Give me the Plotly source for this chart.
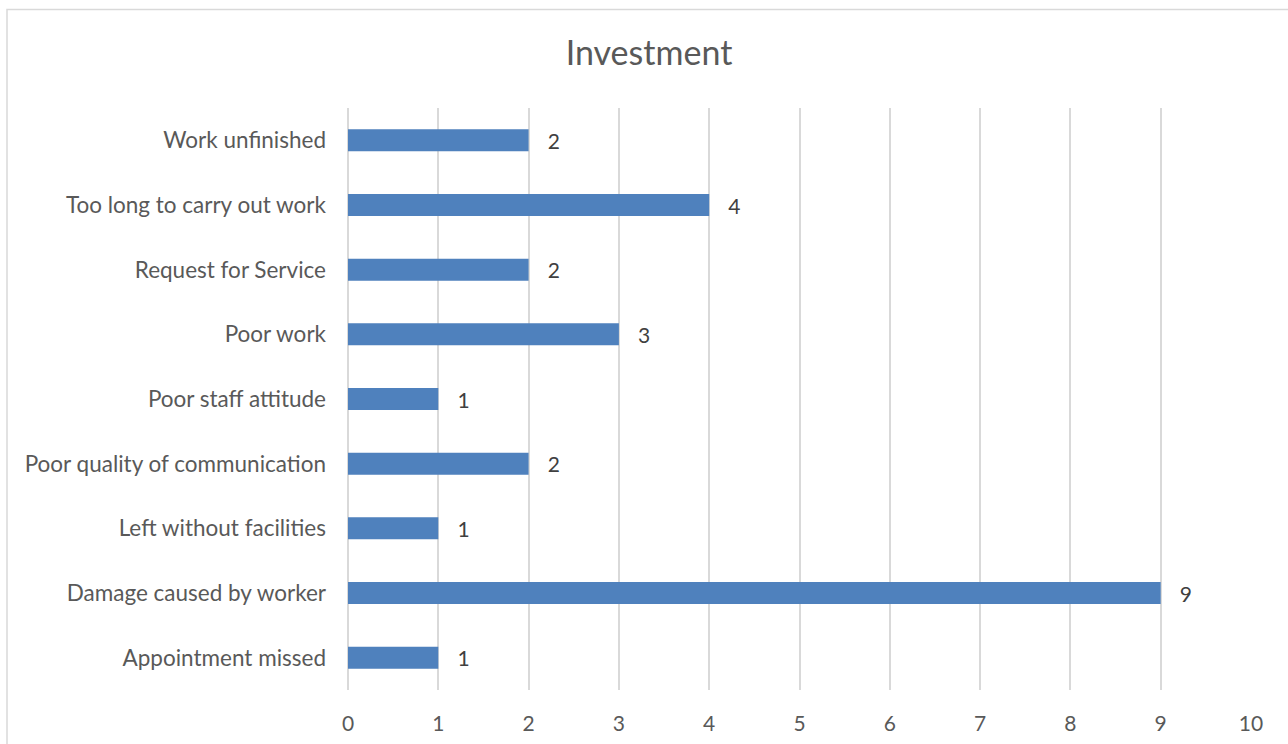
import plotly.graph_objects as go

categories = [
    "Appointment missed",
    "Damage caused by worker",
    "Left without facilities",
    "Poor quality of communication",
    "Poor staff attitude",
    "Poor work",
    "Request for Service",
    "Too long to carry out work",
    "Work unfinished",
]
values = [1, 9, 1, 2, 1, 3, 2, 4, 2]
x_ticks = list(range(0, 11))

W, H = 1288, 744
L, R, T, B = 348, 1251, 108, 690
pw, ph = R - L, B - T

font_family = "Lato, Open Sans, sans-serif"
text_col = "#595959"

fig = go.Figure(
    go.Bar(
        x=values,
        y=categories,
        orientation="h",
        marker=dict(color="#4f81bd", line=dict(width=0)),
        width=0.34,
        text=values,
        texttemplate="   %{x}",
        textposition="outside",
        constraintext="none",
        textfont=dict(size=21, color="#404040", family=font_family),
        cliponaxis=False,
    )
)

fig.update_layout(
    width=W,
    height=H,
    margin=dict(l=L, r=W - R, t=T, b=H - B, autoexpand=False),
    paper_bgcolor="white",
    plot_bgcolor="white",
    title=dict(
        text="Investment",
        x=(649 - L) / pw,
        xref="paper",
        xanchor="center",
        y=1 - 53 / H,
        yanchor="middle",
        font=dict(size=34, color=text_col, family=font_family),
    ),
    xaxis=dict(
        range=[0, 10],
        tickvals=x_ticks,
        showgrid=True,
        gridcolor="#d9d9d9",
        gridwidth=1.5,
        zeroline=True,
        zerolinecolor="#d9d9d9",
        zerolinewidth=1.5,
        showline=False,
        ticks="",
        tickfont=dict(size=21, color=text_col, family=font_family),
        ticklabelstandoff=19,
    ),
    yaxis=dict(
        categoryorder="array",
        categoryarray=categories,
        showgrid=False,
        showline=False,
        ticks="",
        tickfont=dict(size=22.5, color=text_col, family=font_family),
        ticklabelstandoff=21,
    ),
    showlegend=False,
    shapes=[
        dict(
            type="rect",
            xref="paper",
            yref="paper",
            x0=(7 - L) / pw,
            x1=(W + 10 - L) / pw,
            y0=(B - (H + 10)) / ph,
            y1=(B - 9.5) / ph,
            line=dict(color="#d9d9d9", width=1.5),
            fillcolor="rgba(0,0,0,0)",
            layer="below",
        )
    ],
)

fig.write_html("out.html")
